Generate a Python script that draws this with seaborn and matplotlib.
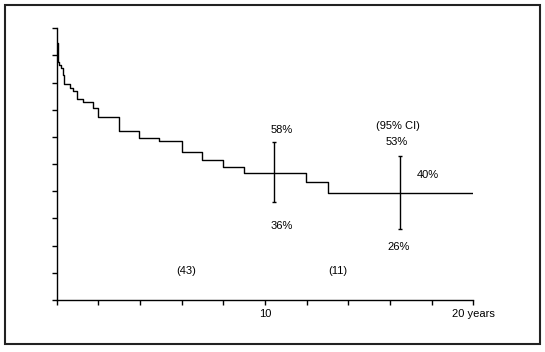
import matplotlib
matplotlib.use("Agg")
import matplotlib.pyplot as plt
import seaborn as sns
import pandas as pd
from matplotlib.patches import Rectangle

# Survival curve steps (years, proportion surviving)
years = [0, 0.05, 0.08, 0.13, 0.19, 0.32, 0.37, 0.65, 0.80, 0.99, 1.28, 1.76,
         2.0, 3.0, 3.97, 4.93, 6.0, 6.99, 8.0, 9.01, 11.98, 13.04, 20]
survival = [0.946, 0.888, 0.876, 0.866, 0.855, 0.827, 0.794, 0.782, 0.771, 0.741,
            0.727, 0.708, 0.675, 0.621, 0.598, 0.587, 0.543, 0.514, 0.488, 0.469,
            0.434, 0.392, 0.392]

# 95% confidence intervals at two time points
ci_years = [10.45, 16.5]
ci_est = [0.47, 0.395]
ci_low = [0.36, 0.26]
ci_high = [0.58, 0.53]
ci_high_labels = ["58%", "53%"]
ci_low_labels = ["36%", "26%"]
est_label = "40%"
ci_title = "(95% CI)"
at_risk = ["(43)", "(11)"]

x_ticks = list(range(0, 21, 2))
x_ticklabels = ["" if t not in (10, 20) else ("10" if t == 10 else "20 years") for t in x_ticks]

sns.set_style("ticks")
plt.rcParams["font.family"] = ["Liberation Sans Narrow", "Liberation Sans", "DejaVu Sans"]
plt.rcParams["text.color"] = "black"

fig = plt.figure(figsize=(5.45, 3.52), dpi=100)
ax = fig.add_axes([56.7 / 545, 52 / 352, 416.6 / 545, 271.7 / 352])

df = pd.DataFrame({"years": years, "survival": survival})
sns.lineplot(data=df, x="years", y="survival", ax=ax, color="black",
             linewidth=1.0, drawstyle="steps-post", estimator=None, sort=False)

yerr = [[e - l for e, l in zip(ci_est, ci_low)], [h - e for e, h in zip(ci_est, ci_high)]]
ax.errorbar(ci_years, ci_est, yerr=yerr, fmt="none", ecolor="black",
            elinewidth=1.0, capsize=1.5, capthick=1.0)

fs = 8
ax.text(10.82, 0.625, ci_high_labels[0], ha="center", va="center", fontsize=fs)
ax.text(10.82, 0.272, ci_low_labels[0], ha="center", va="center", fontsize=fs)
ax.text(16.39, 0.64, ci_title, ha="center", va="center", fontsize=fs)
ax.text(16.34, 0.581, ci_high_labels[1], ha="center", va="center", fontsize=fs)
ax.text(17.83, 0.46, est_label, ha="center", va="center", fontsize=fs)
ax.text(16.43, 0.195, ci_low_labels[1], ha="center", va="center", fontsize=fs)
ax.text(6.21, 0.107, at_risk[0], ha="center", va="center", fontsize=fs)
ax.text(13.5, 0.107, at_risk[1], ha="center", va="center", fontsize=fs)

ax.set_xlim(0, 20)
ax.set_ylim(0, 1)
ax.set_xticks(x_ticks)
ax.set_xticklabels(x_ticklabels)
ax.set_yticks([i / 10 for i in range(11)])
ax.set_yticklabels([])
ax.set_xlabel("")
ax.set_ylabel("")
ax.tick_params(direction="out", length=3.5, width=1.0, colors="black",
               labelsize=fs, pad=3)
sns.despine(ax=ax)
for s in ("left", "bottom"):
    ax.spines[s].set_linewidth(1.0)
    ax.spines[s].set_color("black")

fig.patches.append(Rectangle((5 / 545, 8 / 352), 535 / 545, 339 / 352,
                             transform=fig.transFigure, fill=False,
                             edgecolor="#222222", linewidth=1.5))

fig.savefig("out.png", dpi=100)
